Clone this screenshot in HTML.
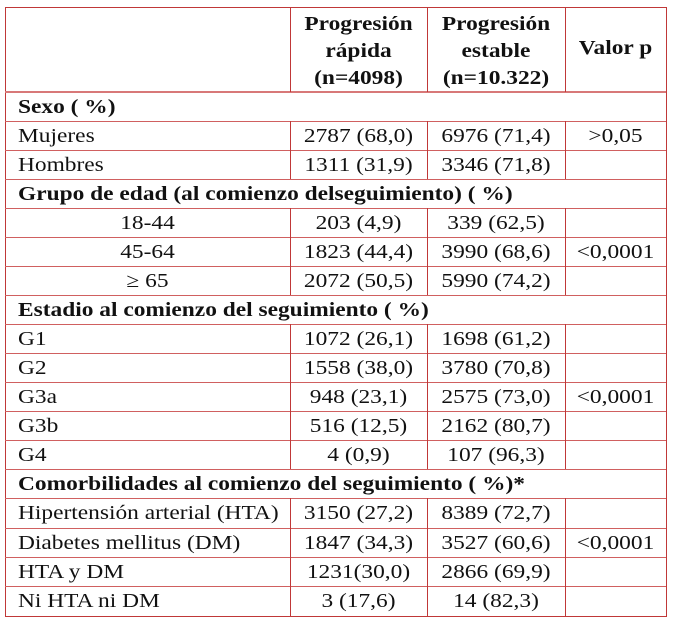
<!DOCTYPE html><html><head><style>
body{margin:0;background:#fff;width:673px;height:622px;position:relative;font-family:"Liberation Serif",serif;font-size:20px;color:#111;overflow:hidden}
.h{position:absolute;height:1px;background:#d06060}
.v{position:absolute;width:1px;background:#c03838}
.t{position:absolute;white-space:nowrap;line-height:20px;transform:scaleX(1.17);transform-origin:left center}
.c{text-align:center;transform-origin:center center}
.b{font-weight:bold}
</style></head><body>
<div style="position:absolute;left:5px;top:7px;width:660px;height:608px;border:1px solid #c03838"></div>
<div class="h" style="left:5px;top:91px;width:661px;height:2px;background:#d87878"></div>
<div id="lines"></div>
<script>
var rows=[92,121,150,179,208,237,266,295,324,353,382,411,440,469,498,528,557,586,616];
var sec=[0,3,7,13];
var L=document.getElementById('lines'),h='';
for(var i=1;i<rows.length-1;i++)h+='<div class="h" style="left:5px;top:'+rows[i]+'px;width:661px"></div>';
h+='<div class="v" style="left:290px;top:7px;height:85px"></div><div class="v" style="left:427px;top:7px;height:85px"></div><div class="v" style="left:565px;top:7px;height:85px"></div>';
for(var i=0;i<rows.length-1;i++){if(sec.indexOf(i)>=0)continue;
[290,427,565].forEach(function(x){h+='<div class="v" style="left:'+x+'px;top:'+rows[i]+'px;height:'+(rows[i+1]-rows[i])+'px"></div>'});}
L.innerHTML=h;
var data=[
["Sexo ( %)",1],["Mujeres","2787 (68,0)","6976 (71,4)",">0,05"],["Hombres","1311 (31,9)","3346 (71,8)",""],
["Grupo de edad (al comienzo delseguimiento) ( %)",1],["c18-44","203 (4,9)","339 (62,5)",""],["c45-64","1823 (44,4)","3990 (68,6)","<0,0001"],["c≥ 65","2072 (50,5)","5990 (74,2)",""],
["Estadio al comienzo del seguimiento ( %)",1],["G1","1072 (26,1)","1698 (61,2)",""],["G2","1558 (38,0)","3780 (70,8)",""],["G3a","948 (23,1)","2575 (73,0)","<0,0001"],["G3b","516 (12,5)","2162 (80,7)",""],["G4","4 (0,9)","107 (96,3)",""],
["Comorbilidades al comienzo del seguimiento ( %)*",1],["Hipertensión arterial (HTA)","3150 (27,2)","8389 (72,7)",""],["Diabetes mellitus (DM)","1847 (34,3)","3527 (60,6)","<0,0001"],["HTA y DM","1231(30,0)","2866 (69,9)",""],["Ni HTA ni DM","3 (17,6)","14 (82,3)",""]];
var o='';
data.forEach(function(r,i){var y=(rows[i]+rows[i+1])/2-10;
if(r[1]===1){o+='<div class="t b" style="left:18px;top:'+y+'px">'+r[0]+'</div>';return;}
var f=r[0];if(f[0]=='c')o+='<div class="t c" style="left:5px;width:285px;top:'+y+'px">'+f.slice(1)+'</div>';else o+='<div class="t" style="left:18px;top:'+y+'px">'+f+'</div>';
o+='<div class="t c" style="left:290px;width:137px;top:'+y+'px">'+r[1]+'</div>';
o+='<div class="t c" style="left:427px;width:138px;top:'+y+'px">'+r[2]+'</div>';
o+='<div class="t c" style="left:565px;width:101px;top:'+y+'px">'+r[3].replace('<','&lt;')+'</div>';});
o+='<div class="t b c" style="left:290px;width:137px;top:11px;line-height:27px">Progresión<br>rápida<br>(n=4098)</div>';
o+='<div class="t b c" style="left:427px;width:138px;top:11px;line-height:27px">Progresión<br>estable<br>(n=10.322)</div>';
o+='<div class="t b c" style="left:565px;width:101px;top:38px">Valor p</div>';
document.body.insertAdjacentHTML('beforeend',o);
</script>
</body></html>
